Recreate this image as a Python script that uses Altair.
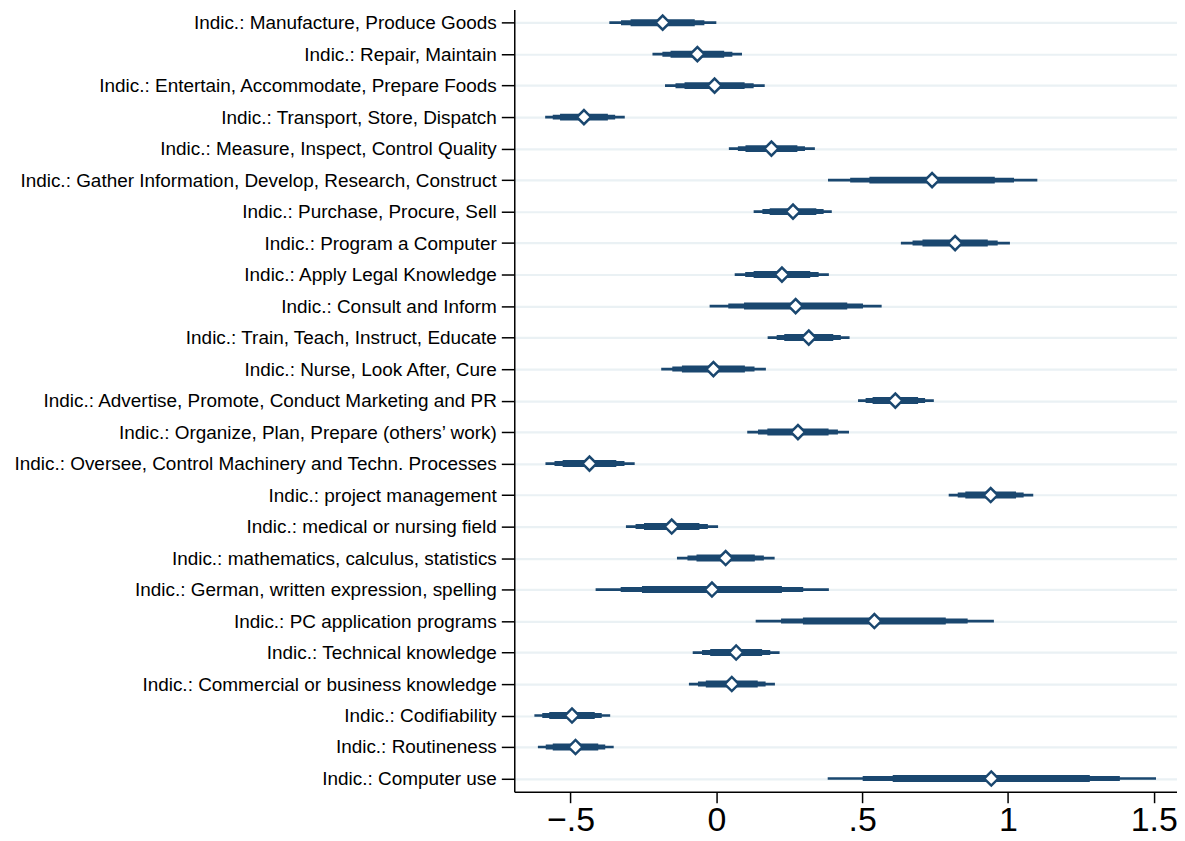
import altair as alt
import pandas as pd

labels = [
    "Indic.: Manufacture, Produce Goods",
    "Indic.: Repair, Maintain",
    "Indic.: Entertain, Accommodate, Prepare Foods",
    "Indic.: Transport, Store, Dispatch",
    "Indic.: Measure, Inspect, Control Quality",
    "Indic.: Gather Information, Develop, Research, Construct",
    "Indic.: Purchase, Procure, Sell",
    "Indic.: Program a Computer",
    "Indic.: Apply Legal Knowledge",
    "Indic.: Consult and Inform",
    "Indic.: Train, Teach, Instruct, Educate",
    "Indic.: Nurse, Look After, Cure",
    "Indic.: Advertise, Promote, Conduct Marketing and PR",
    "Indic.: Organize, Plan, Prepare (others\u2019 work)",
    "Indic.: Oversee, Control Machinery and Techn. Processes",
    "Indic.: project management",
    "Indic.: medical or nursing field",
    "Indic.: mathematics, calculus, statistics",
    "Indic.: German, written expression, spelling",
    "Indic.: PC application programs",
    "Indic.: Technical knowledge",
    "Indic.: Commercial or business knowledge",
    "Indic.: Codifiability",
    "Indic.: Routineness",
    "Indic.: Computer use",
]

coef = [-0.184, -0.065, -0.006, -0.454, 0.189, 0.740, 0.263, 0.819, 0.225, 0.272, 0.317, -0.010, 0.614,
        0.280, -0.435, 0.941, -0.153, 0.032, -0.015, 0.542, 0.068, 0.053, -0.495, -0.483, 0.943]
lo_outer = [-0.367, -0.219, -0.176, -0.587, 0.043, 0.383, 0.128, 0.633, 0.063, -0.023, 0.176, -0.189, 0.486,
            0.106, -0.586, 0.797, -0.310, -0.135, -0.414, 0.135, -0.081, -0.094, -0.624, -0.612, 0.382]
hi_outer = [0.000, 0.088, 0.166, -0.314, 0.338, 1.101, 0.396, 1.007, 0.386, 0.567, 0.457, 0.170, 0.746,
            0.455, -0.280, 1.087, 0.006, 0.200, 0.386, 0.952, 0.217, 0.201, -0.364, -0.352, 1.508]
lo_mid = [-0.327, -0.185, -0.140, -0.561, 0.074, 0.459, 0.158, 0.673, 0.099, 0.041, 0.207, -0.151, 0.512,
          0.143, -0.555, 0.828, -0.277, -0.099, -0.328, 0.222, -0.049, -0.063, -0.597, -0.585, 0.502]
hi_mid = [-0.041, 0.055, 0.128, -0.347, 0.304, 1.021, 0.368, 0.965, 0.351, 0.503, 0.427, 0.131, 0.716,
          0.417, -0.315, 1.054, -0.029, 0.163, 0.298, 0.862, 0.185, 0.169, -0.393, -0.381, 1.384]
lo_inner = [-0.294, -0.157, -0.109, -0.536, 0.100, 0.525, 0.183, 0.707, 0.128, 0.095, 0.233, -0.118, 0.536,
            0.175, -0.527, 0.854, -0.248, -0.068, -0.255, 0.297, -0.021, -0.036, -0.573, -0.561, 0.605]
hi_inner = [-0.074, 0.027, 0.097, -0.372, 0.278, 0.955, 0.343, 0.931, 0.322, 0.449, 0.401, 0.098, 0.692,
            0.385, -0.343, 1.028, -0.058, 0.132, 0.225, 0.787, 0.157, 0.142, -0.417, -0.405, 1.281]

x_ticks = [-0.5, 0, 0.5, 1, 1.5]

df = pd.DataFrame({
    "label": labels, "coef": coef,
    "lo_outer": lo_outer, "hi_outer": hi_outer,
    "lo_mid": lo_mid, "hi_mid": hi_mid,
    "lo_inner": lo_inner, "hi_inner": hi_inner,
})

NAVY = "#1a476f"
FONT = "Liberation Sans"

xscale = alt.Scale(domain=[-0.693, 1.58], nice=False, zero=False)
xaxis = alt.Axis(
    title=None, values=x_ticks, grid=False,
    labelExpr="datum.value == -0.5 ? '\u2212.5' : datum.value == 0.5 ? '.5' : toString(datum.value)",
    labelFont=FONT, labelFontSize=34, labelColor="black", labelPadding=1, labelFlush=False,
    tickSize=11, tickColor="black", tickWidth=1.5,
    domainColor="black", domainWidth=1.5,
)
yaxis = alt.Axis(
    title=None, grid=True, gridColor="#eaf1f4", gridWidth=2.2,
    labelFont=FONT, labelFontSize=19, labelColor="black", labelLimit=800, labelPadding=5,
    tickSize=13, tickColor="black", tickWidth=1.5,
    domainColor="black", domainWidth=1.5,
)
yenc = alt.Y("label:N", sort=labels, scale=alt.Scale(type="point", padding=0.42), axis=yaxis)

base = alt.Chart(df)

outer = base.mark_rule(color=NAVY, strokeWidth=2.7, strokeCap="butt").encode(
    x=alt.X("lo_outer:Q", scale=xscale, axis=xaxis), x2="hi_outer:Q", y=yenc)
mid = base.mark_rule(color=NAVY, strokeWidth=5, strokeCap="butt").encode(
    x=alt.X("lo_mid:Q", scale=xscale), x2="hi_mid:Q", y=yenc)
inner = base.mark_rule(color=NAVY, strokeWidth=7, strokeCap="butt").encode(
    x=alt.X("lo_inner:Q", scale=xscale), x2="hi_inner:Q", y=yenc)
pts = base.mark_point(shape="diamond", filled=True, fill="white", stroke=NAVY,
                      strokeWidth=2.5, size=200, opacity=1).encode(
    x=alt.X("coef:Q", scale=xscale), y=yenc)

chart = alt.layer(outer, mid, inner, pts).properties(
    width=665, height=785,
    autosize=alt.AutoSizeParams(type="none"),
    padding={"left": 508, "top": 0, "right": 0, "bottom": 47},
    background="white",
).configure_view(stroke=None)

chart.save("out.html", embed_options={"renderer": "svg", "actions": False})
